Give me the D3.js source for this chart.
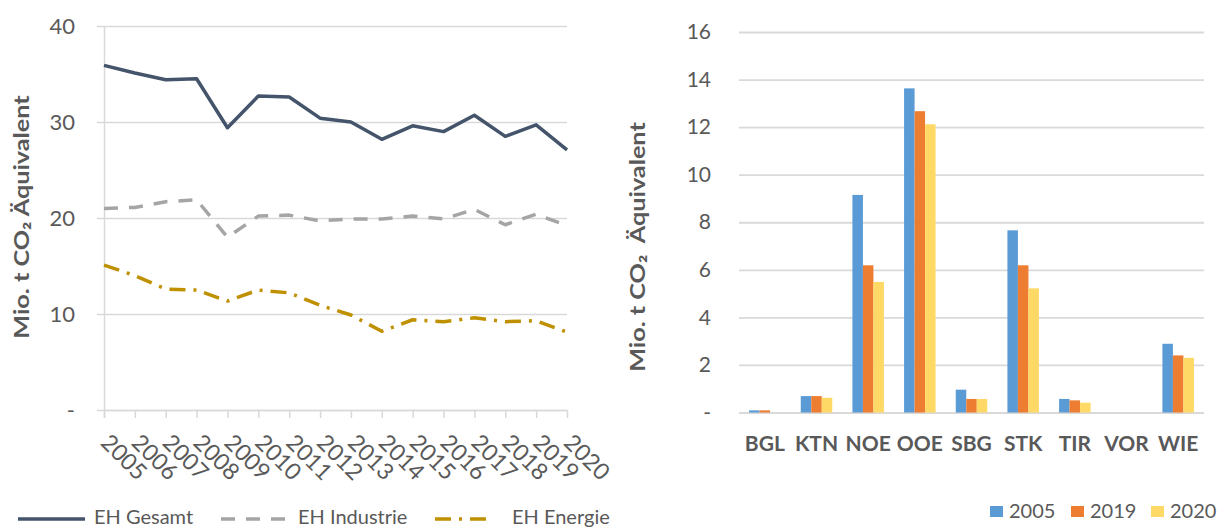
<!DOCTYPE html>
<html>
<head>
<meta charset="utf-8">
<script src="https://cdn.jsdelivr.net/npm/d3@7"></script>
<style>
  html, body { margin: 0; padding: 0; background: #fff; }
  svg { display: block; font-family: Lato, "Noto Sans", sans-serif; }
</style>
</head>
<body>
<svg id="chart" width="1222" height="529"></svg>
<script>
// ---- Line chart data (Mio. t CO2 equivalent, ETS sectors) ----
const years = ["2005","2006","2007","2008","2009","2010","2011","2012","2013","2014","2015","2016","2017","2018","2019","2020"];
const ehGesamt   = [35.9, 35.1, 34.4, 34.5, 29.4, 32.7, 32.6, 30.4, 30.0, 28.2, 29.6, 29.0, 30.7, 28.5, 29.7, 27.1];
const ehIndustrie = [21.0, 21.1, 21.7, 21.9, 18.0, 20.2, 20.3, 19.7, 19.9, 19.9, 20.2, 19.9, 20.9, 19.3, 20.4, 19.2];
const ehEnergie  = [15.1, 14.0, 12.6, 12.5, 11.35, 12.5, 12.2, 10.9, 9.9, 8.2, 9.4, 9.2, 9.6, 9.2, 9.3, 8.1];
const lineTicks = [0, 10, 20, 30, 40];

// ---- Bar chart data (by federal state) ----
const states = ["BGL","KTN","NOE","OOE","SBG","STK","TIR","VOR","WIE"];
const barYears = ["2005","2019","2020"];
const v2005 = [0.09, 0.69, 9.15, 13.63, 0.96, 7.66, 0.57, 0, 2.89];
const v2019 = [0.09, 0.69, 6.19, 12.67, 0.57, 6.19, 0.51, 0, 2.40];
const v2020 = [0.0, 0.62, 5.49, 12.12, 0.57, 5.22, 0.41, 0, 2.30];
const barTicks = [0, 2, 4, 6, 8, 10, 12, 14, 16];

const svg = d3.select("#chart");
const textCol = "#595959";
const gridCol = "#d9d9d9";
const fmt = v => v === 0 ? "-" : String(v);

// ================= Left: line chart =================
const x1 = d3.scalePoint().domain(years).range([104, 567]);
const y1 = d3.scaleLinear().domain([0, 40]).range([410, 26]);

const g1 = svg.append("g");

// horizontal gridlines with outside tick stubs
g1.append("g")
  .attr("transform", "translate(104,0)")
  .call(d3.axisLeft(y1).tickValues(lineTicks).tickSize(-463).tickPadding(29).tickFormat(fmt))
  .call(g => g.select(".domain").remove())
  .call(g => g.selectAll(".tick line").attr("x1", -7).attr("stroke", gridCol).attr("stroke-width", 1.5))
  .call(g => g.selectAll(".tick text").attr("fill", textCol).attr("font-size", 22).attr("font-family", "Lato"));

// vertical axis line
g1.append("line").attr("x1", 104.5).attr("x2", 104.5).attr("y1", y1(40)).attr("y2", 418)
  .attr("stroke", gridCol).attr("stroke-width", 1.5);

// category axis with rotated year labels
const xAxis1 = g1.append("g")
  .attr("transform", "translate(0,410)")
  .call(d3.axisBottom(x1).tickSize(8).tickSizeOuter(0));
xAxis1.select(".domain").attr("stroke", gridCol).attr("stroke-width", 1.5);
xAxis1.selectAll(".tick line").attr("stroke", gridCol).attr("stroke-width", 1.5);
xAxis1.selectAll(".tick text")
  .attr("fill", textCol).attr("font-size", 23).attr("font-family", "Lato")
  .attr("text-anchor", "start").attr("dy", 0).attr("y", 0)
  .attr("transform", "translate(-5,34) rotate(45)");

const lineGen = d3.line().x((d, i) => x1(years[i])).y(d => y1(d));
const seriesDefs = [
  { name: "EH Gesamt",    values: ehGesamt,    color: "#44546a", dash: null },
  { name: "EH Industrie", values: ehIndustrie, color: "#a5a5a5", dash: "14,11" },
  { name: "EH Energie",   values: ehEnergie,   color: "#bf9000", dash: "16,8,3,8" }
];
seriesDefs.slice().reverse().forEach(s => {
  g1.append("path").datum(s.values)
    .attr("d", lineGen).attr("fill", "none")
    .attr("stroke", s.color).attr("stroke-width", 3.5)
    .attr("stroke-linejoin", "round")
    .attr("stroke-dasharray", s.dash);
});

// left y title
svg.append("text")
  .attr("transform", "translate(29,217) rotate(-90) scale(1.2,1)")
  .attr("text-anchor", "middle").attr("font-weight", "bold")
  .attr("font-size", 21).attr("fill", textCol)
  .text("Mio. t CO₂ Äquivalent");

// legend for line chart
const leg1 = [
  { x0: 18, x1: 85, tx: 94 },
  { x0: 221, x1: 289, tx: 298 },
  { x0: 435, x1: 493, tx: 512 }
];
seriesDefs.forEach((s, i) => {
  const L = leg1[i];
  svg.append("line").attr("x1", L.x0).attr("x2", L.x1).attr("y1", 519).attr("y2", 519)
    .attr("stroke", s.color).attr("stroke-width", 3.5).attr("stroke-dasharray", s.dash);
  svg.append("text").attr("x", L.tx).attr("y", 524)
    .attr("font-size", 20).attr("fill", textCol).text(s.name);
});

// ================= Right: grouped bar chart =================
const x2 = d3.scaleBand().domain(states).range([739, 1204]).padding(0);
const groupW = 31.5;
const xs = d3.scaleBand().domain(barYears).range([0, groupW]).padding(0);
const y2 = d3.scaleLinear().domain([0, 16]).range([412.5, 32]);
const barColors = d3.scaleOrdinal().domain(barYears).range(["#5b9bd5", "#ed7d31", "#ffd966"]);

const g2 = svg.append("g");
g2.append("g")
  .attr("transform", "translate(739,0)")
  .call(d3.axisLeft(y2).tickValues(barTicks).tickSize(-465).tickPadding(28).tickFormat(fmt))
  .call(g => g.select(".domain").remove())
  .call(g => g.selectAll(".tick line").attr("stroke", gridCol).attr("stroke-width", 1.8))
  .call(g => g.selectAll(".tick text").attr("fill", textCol).attr("font-size", 21).attr("font-family", "Lato"));

const barData = [];
states.forEach((st, i) => {
  [v2005, v2019, v2020].forEach((arr, j) => {
    barData.push({ state: st, year: barYears[j], value: arr[i] });
  });
});
g2.append("g").selectAll("rect").data(barData).join("rect")
  .attr("x", d => x2(d.state) + (x2.bandwidth() - groupW) / 2 + xs(d.year))
  .attr("width", xs.bandwidth())
  .attr("y", d => y2(d.value))
  .attr("height", d => y2(0) - y2(d.value))
  .attr("fill", d => barColors(d.year));

// category labels
g2.append("g").selectAll("text").data(states).join("text")
  .attr("x", d => x2(d) + x2.bandwidth() / 2)
  .attr("y", 451)
  .attr("text-anchor", "middle").attr("font-weight", "bold")
  .attr("font-size", 21).attr("fill", textCol)
  .text(d => d);

// right y title
svg.append("text")
  .attr("transform", "translate(645,247) rotate(-90) scale(1.2,1)")
  .attr("text-anchor", "middle").attr("font-weight", "bold")
  .attr("font-size", 21).attr("fill", textCol)
  .attr("xml:space", "preserve")
  .text("Mio. t CO₂  Äquivalent");

// bar legend
const leg2x = [990, 1071, 1151];
barYears.forEach((yr, i) => {
  svg.append("rect").attr("x", leg2x[i]).attr("y", 506).attr("width", 13).attr("height", 11)
    .attr("fill", barColors(yr));
  svg.append("text").attr("x", leg2x[i] + 19).attr("y", 518)
    .attr("font-size", 20).attr("fill", textCol).text(yr);
});
</script>
</body>
</html>
